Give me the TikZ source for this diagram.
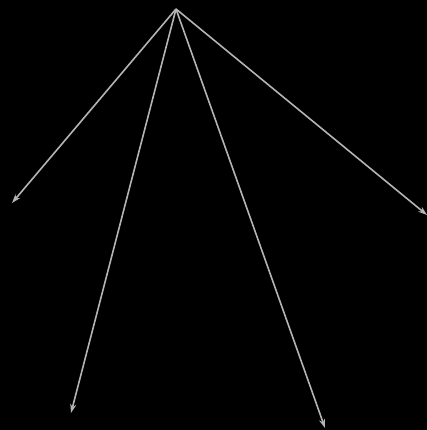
\documentclass[tikz,border=0pt]{standalone}
\usepackage{tikz}
\usetikzlibrary{arrows.meta}
\definecolor{edgegrey}{RGB}{180,180,180}

\begin{document}
\begin{tikzpicture}[x=1pt, y=-1pt, edge/.style={-{Stealth[length=9pt, width=6pt]}, draw=edgegrey, line width=1.6pt}]
        \fill[black] (0,0) rectangle (427,430);
        \useasboundingbox (0,0) rectangle (427,430);

        \coordinate (root) at (176,9);
        \coordinate (left) at (12,203);
        \coordinate (midleft) at (71,413);
        \coordinate (midright) at (325,428);
        \coordinate (right) at (427,215);

        \foreach \tgt in {left, midleft, midright, right}
          \draw[edge] (root) -- (\tgt);
      \end{tikzpicture}
\end{document}
